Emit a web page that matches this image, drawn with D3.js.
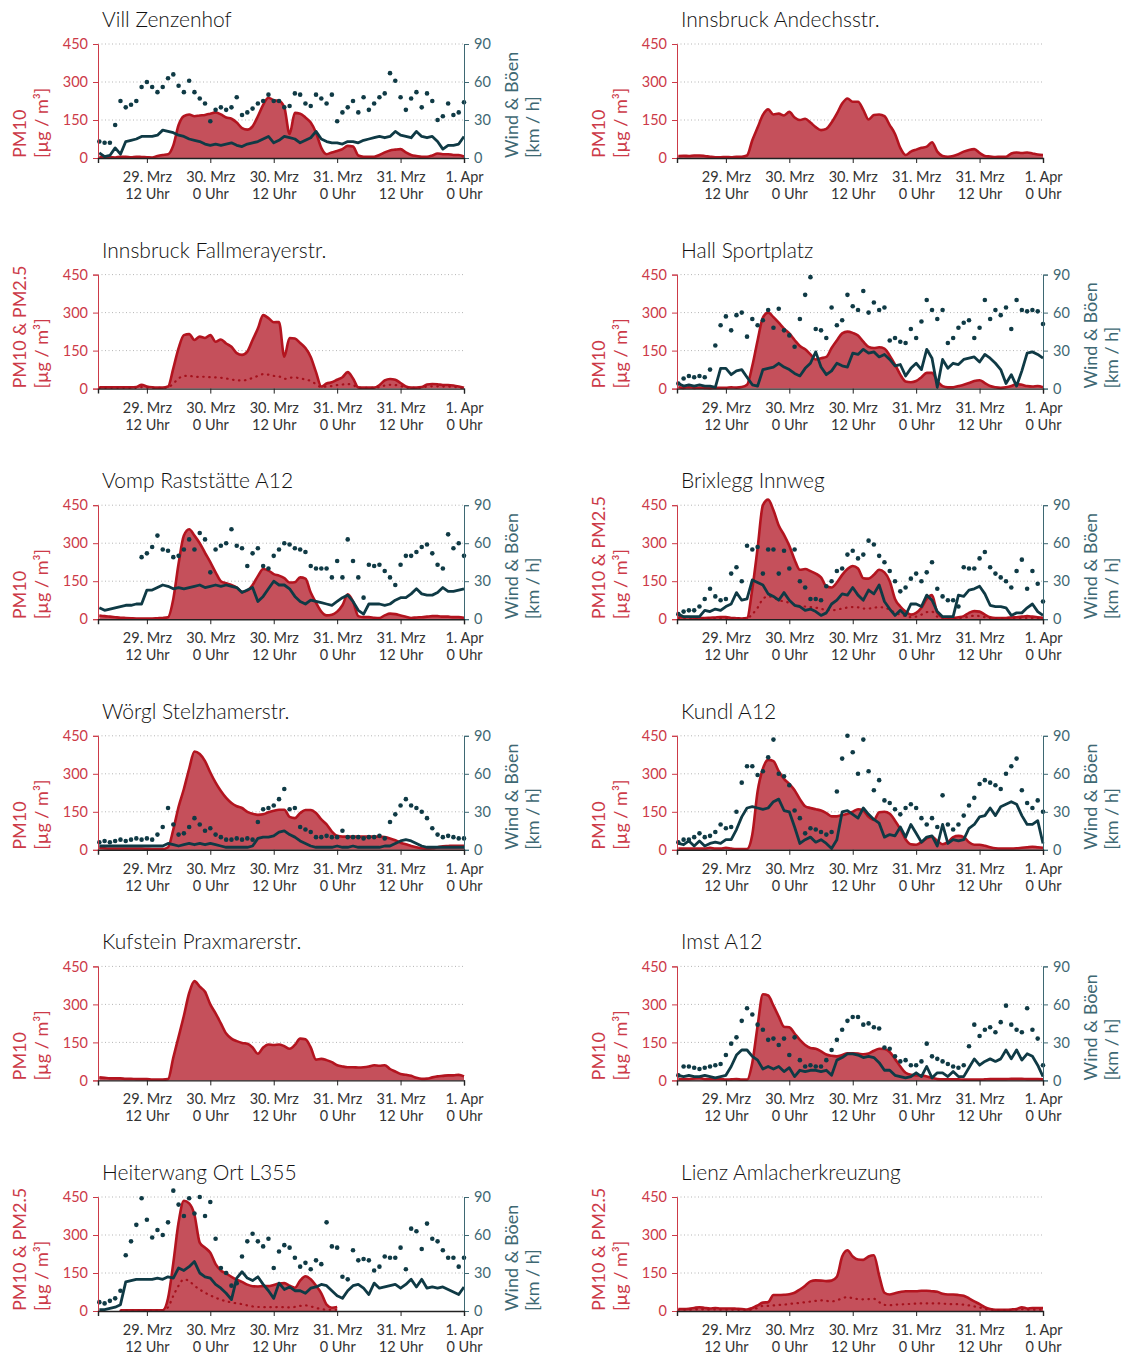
<!DOCTYPE html>
<html>
<head>
<meta charset="utf-8">
<script src="https://cdn.jsdelivr.net/npm/d3@7"></script>
<style>
  body { margin: 0; background: #fff; }
  svg text { font-family: Lato, "Open Sans", sans-serif; }
</style>
</head>
<body>
<svg id="chart" width="1125" height="1357"></svg>
<script>
// hourly values, 29. Mrz 03:00 .. 1. Apr 00:00 (70 values each)
const villPm10 = [5,3,3,2,5,5,3,5,4,3, 2,8,12,15,50,130,165,172,165,168, 170,175,180,172,160,155,140,118,112,125, 165,210,238,228,225,200,95,178,175,160, 140,100,40,15,22,28,35,48,45,10, 5,5,5,12,22,30,33,35,22,12, 8,5,5,10,18,15,15,12,12,6];
const villWind = [4,1,2,8,3,13,14,15,17,17, 17,18,22,21,20,18,17,15,14,13, 11,10,11,10,11,12,10,9,11,12, 13,15,17,12,14,17,16,15,12,14, 16,21,15,13,12,12,11,13,13,12, 14,15,16,17,16,17,21,18,17,16, 21,17,16,17,13,7,10,10,11,17];
const villGust = [13,12,12,26,45,40,42,45,56,60, 56,52,56,63,66,57,52,61,52,47, 43,29,38,40,38,40,48,34,36,39, 43,45,50,45,45,40,41,51,50,43, 41,50,47,43,50,29,36,40,45,36, 48,38,43,48,51,67,61,48,38,47, 52,40,51,45,30,33,43,34,36,44];

const andechsPm10 = [8,9,8,10,10,8,5,3,3,4, 3,5,5,10,70,120,170,192,172,175, 168,182,160,150,155,140,122,110,115,140, 175,215,235,222,222,190,152,170,172,165, 130,95,40,12,25,33,40,45,62,25, 8,5,8,15,25,32,35,20,8,6, 4,5,5,18,22,20,22,18,14,12];

const fallPm10 = [5,5,5,5,5,5,5,6,15,8, 5,4,4,8,80,160,211,215,192,205, 200,211,185,194,178,165,140,133,146,192, 237,290,278,262,263,126,200,198,180,160, 125,65,8,20,25,35,45,65,40,5, 4,4,4,14,32,38,35,22,8,4, 4,6,16,18,17,14,14,12,8,3];
const fallPm25 = [3,3,3,3,3,3,3,3,6,4, 3,3,3,5,20,40,50,50,47,46, 47,45,44,43,40,36,33,32,35,42, 50,57,55,50,48,38,43,44,40,36, 30,18,6,8,10,14,16,18,14,4, 3,3,3,6,12,15,14,10,4,3, 3,4,8,9,9,8,8,7,5,3];

const hallPm10 = [5,3,5,3,4,3,2,3,3,3, 5,4,6,15,90,190,280,300,282,260, 237,218,192,168,155,135,115,120,125,160, 190,218,225,220,210,185,165,160,163,158, 130,95,55,28,25,30,45,62,62,30, 10,5,5,10,15,22,30,33,22,10, 5,3,5,10,18,15,10,8,10,5];
const hallWind = [4,2,3,2,3,2,2,1,16,16, 11,14,15,9,3,2,15,16,17,20, 17,15,12,10,16,20,29,17,11,14, 20,18,17,28,27,31,28,29,25,27, 23,18,19,10,16,20,15,31,24,1, 23,16,20,19,23,24,25,21,27,24, 20,15,4,11,2,14,28,29,27,24];
const hallGust = [4,8,10,9,10,9,15,34,50,57, 46,58,60,41,55,50,54,62,48,63, 46,42,33,55,74,88,47,46,40,64, 50,54,74,65,62,77,60,68,62,64, 38,40,37,36,47,40,53,70,62,55, 62,36,40,48,52,54,40,48,70,55, 62,58,64,47,70,62,61,62,61,51];

const vompPm10 = [15,12,10,8,6,5,4,3,3,3, 3,4,5,8,80,220,330,355,330,300, 262,225,185,150,142,135,125,108,113,135, 170,198,192,178,172,162,145,146,165,160, 105,65,30,15,18,30,55,98,70,12, 8,8,6,5,15,22,20,15,10,5, 7,8,10,12,12,10,10,8,8,6];
const vompWind = [9,7,8,9,10,11,11,12,12,23, 23,25,27,26,24,25,24,25,26,27, 25,26,27,26,27,26,25,21,23,25, 14,18,24,30,27,27,24,18,14,12, 15,14,13,12,11,14,17,19,14,7, 4,12,12,12,11,12,15,17,17,20, 24,20,19,19,21,25,22,22,23,24];
const vompGust = [null,null,null,null,null,null,null,null,49,52, 57,66,55,54,49,50,55,63,55,68, 63,37,55,58,60,71,58,56,42,52, 56,42,40,50,55,60,59,56,55,53, 42,40,40,40,33,46,33,63,46,33, 17,43,42,43,38,33,27,43,50,50, 53,57,59,52,43,40,67,56,60,50];

const brixPm10 = [8,8,8,6,5,5,6,7,8,8, 5,4,3,5,120,280,450,472,430,370, 333,290,235,195,198,190,180,165,130,125, 145,175,198,210,200,162,160,175,195,185, 150,80,50,30,18,25,45,80,95,25, 8,5,5,8,12,25,32,30,18,8, 5,5,5,7,8,10,12,10,8,6];
const brixPm25 = [3,3,3,3,3,3,3,3,3,3, 3,3,3,4,20,45,80,90,85,75, 70,65,58,52,50,48,45,42,35,35, 38,42,46,48,47,42,42,45,48,45, 38,25,18,12,8,10,18,28,30,10, 4,3,3,4,6,10,14,12,8,4, 3,3,3,3,4,4,5,4,4,3];
const brixWind = [4,2,2,2,2,7,6,8,7,10, 12,21,15,16,31,29,27,20,18,15, 21,15,11,10,7,8,6,3,5,12, 15,20,19,25,19,15,23,20,27,14, 8,3,7,3,12,12,10,19,15,6, 2,2,2,19,18,23,24,26,20,11, 10,10,9,3,5,5,9,12,6,3];
const brixGust = [4,6,7,7,10,16,24,18,15,16, 36,41,30,58,55,57,36,55,55,36, 54,40,55,30,25,16,16,15,26,30, 38,40,51,54,48,51,62,59,50,45, 38,30,22,25,32,36,30,37,45,24, 18,15,15,10,41,40,40,48,53,41, 36,33,30,25,38,47,24,38,28,14];

const woerglPm10 = [8,6,5,5,5,5,5,5,5,4, 3,3,3,10,80,170,240,320,388,378, 350,305,265,232,205,185,172,165,150,142, 138,140,148,154,158,158,130,125,145,157, 157,145,120,100,72,55,52,52,52,52, 52,52,52,52,50,45,38,28,22,15, 10,6,5,6,10,14,15,16,16,16];
const woerglWind = [3,3,3,3,3,3,3,3,3,3, 3,3,3,5,4,3,4,5,4,5, 4,5,4,3,2,2,2,2,2,3, 9,10,10,11,14,15,12,10,7,5, 3,2,2,2,2,3,2,2,3,2, 2,2,2,2,3,3,5,7,8,7, 5,3,2,2,2,2,2,2,2,2];
const woerglGust = [6,7,6,7,8,7,8,9,8,9, 8,12,18,33,20,12,13,18,25,20, 15,17,12,10,8,8,9,8,9,8, 22,32,33,35,40,48,32,33,18,16, 14,10,10,11,10,10,15,10,10,10, 9,10,10,11,9,22,28,35,40,35, 33,30,25,17,12,10,11,10,9,9];

const kundlPm10 = [5,5,5,5,5,5,8,5,5,8, 5,3,3,3,60,230,320,355,350,310, 280,260,235,200,172,165,160,155,145,132, 132,137,142,150,160,155,130,118,148,150, 142,115,82,42,22,20,30,45,52,35, 22,30,50,55,50,30,20,20,16,10, 6,5,5,5,6,8,10,12,10,8];
const kundlWind = [5,4,7,3,7,3,5,6,5,8, 8,16,26,33,34,33,32,33,38,40, 31,30,18,5,8,10,6,8,5,1, 8,30,31,28,25,33,28,24,21,10, 12,11,18,10,20,13,6,10,11,3, 20,5,8,7,8,17,20,26,27,33, 27,34,36,38,36,27,20,20,23,5];
const kundlGust = [6,8,8,10,13,10,11,14,20,17, 18,30,53,66,66,59,62,73,87,60, 58,51,31,25,13,17,16,14,12,14, 46,72,90,77,60,87,62,47,55,39, 37,32,28,33,36,33,25,20,25,18, 43,20,16,20,27,35,41,52,55,53, 51,48,60,66,72,47,37,33,39,30];

const kufPm10 = [12,10,8,8,8,6,6,5,5,5, 3,3,3,5,90,172,255,345,392,370, 350,300,265,225,185,165,155,148,145,130, 105,130,142,140,142,135,125,140,165,162, 130,82,85,80,72,60,55,52,52,51, 52,55,60,58,60,45,35,25,22,18, 10,6,7,12,16,18,20,20,22,16];

const imstPm10 = [5,5,5,8,10,5,5,5,5,3, 4,5,3,3,70,215,340,335,295,252, 212,210,185,160,140,128,125,115,102,97, 95,100,107,107,106,103,106,117,125,124, 112,85,55,30,22,20,20,15,10,5, 4,4,4,4,3,3,3,3,4,5, 5,5,5,6,6,6,5,5,5,4];
const imstWind = [4,3,4,3,3,4,3,2,3,4, 11,20,24,24,19,16,9,11,9,11, 7,10,3,8,7,8,8,7,8,4, 16,18,21,21,20,18,19,18,14,8, 8,4,3,2,3,6,3,11,2,6, 6,3,7,3,3,10,17,12,15,17, 15,17,24,17,24,16,21,19,12,3];
const imstGust = [4,11,11,10,9,10,11,12,13,20, 29,34,47,57,52,44,40,32,33,28, 33,20,34,16,11,12,11,11,16,24, 32,40,47,50,50,44,45,42,41,26, 25,19,15,16,12,12,15,29,19,17, 15,13,11,10,12,27,44,35,40,42, 38,46,59,44,40,38,57,40,33,12];

const heitPm10 = [null,null,null,null,3,3,3,3,3,3, 3,3,3,50,190,350,435,425,380,270, 250,230,185,160,148,135,124,115,104,98, 97,98,98,103,108,110,100,92,120,137, 125,100,70,25,13,16,null,null,null,null, null,null,null,null,null,null,null,null,null,null, null,null,null,null,null,null,null,null,null,null];
const heitPm25 = [null,null,null,null,2,2,2,2,2,2, 2,2,2,15,60,100,125,118,100,85, 72,62,52,45,38,34,30,27,22,18, 16,15,15,15,16,15,14,16,20,22, 18,12,8,5,5,5,null,null,null,null, null,null,null,null,null,null,null,null,null,null, null,null,null,null,null,null,null,null,null,null];
const heitWind = [1,1,2,3,5,23,24,25,25,25, 25,26,25,27,26,34,32,35,39,30, 27,26,21,18,14,9,26,31,26,24, 27,21,16,10,22,17,19,16,16,14, 18,19,21,20,16,12,10,16,20,21, 18,13,22,18,19,20,21,18,21,25, 19,25,18,19,18,19,17,15,13,19];
const heitGust = [7,6,8,10,16,44,55,68,89,72, 58,64,60,70,95,84,75,89,77,90, 75,86,57,34,30,20,22,43,55,61, 55,51,57,34,47,52,50,42,35,38, 33,40,37,70,51,50,27,25,48,40, 41,40,32,35,43,42,42,50,33,65, 63,49,69,57,55,48,42,42,35,42];

const lienzPm10 = [8,8,9,12,15,12,10,12,10,10, 10,9,8,6,12,22,33,35,63,63, 64,66,72,85,100,117,121,120,118,120, 135,215,240,215,203,202,215,220,140,72, 65,70,75,78,78,78,80,80,78,76, 68,65,65,63,60,50,38,27,15,8, 5,5,5,6,8,15,10,12,12,12];
const lienzPm25 = [5,5,5,6,7,6,5,6,5,5, 5,5,4,4,6,12,20,20,22,24, 25,28,30,32,35,37,40,42,40,38, 42,50,55,50,47,46,47,48,35,24, 23,25,26,27,28,29,30,30,30,30, 29,28,27,27,25,22,18,14,8,5, 4,4,4,4,5,7,5,5,5,5];

const xTickDates = [new Date(2024, 2, 29, 12), new Date(2024, 2, 30, 0), new Date(2024, 2, 30, 12),
                    new Date(2024, 2, 31, 0), new Date(2024, 2, 31, 12), new Date(2024, 3, 1, 0)];
const xTickLabels = [["29. Mrz", "12 Uhr"], ["30. Mrz", "0 Uhr"], ["30. Mrz", "12 Uhr"],
                     ["31. Mrz", "0 Uhr"], ["31. Mrz", "12 Uhr"], ["1. Apr", "0 Uhr"]];
const pmTicks = [0, 150, 300, 450];
const windTicks = [0, 30, 60, 90];

const panels = [
  { title: "Vill Zenzenhof", pm10: villPm10, wind: villWind, gust: villGust },
  { title: "Innsbruck Andechsstr.", pm10: andechsPm10 },
  { title: "Innsbruck Fallmerayerstr.", pm10: fallPm10, pm25: fallPm25 },
  { title: "Hall Sportplatz", pm10: hallPm10, wind: hallWind, gust: hallGust },
  { title: "Vomp Raststätte A12", pm10: vompPm10, wind: vompWind, gust: vompGust },
  { title: "Brixlegg Innweg", pm10: brixPm10, pm25: brixPm25, wind: brixWind, gust: brixGust },
  { title: "Wörgl Stelzhamerstr.", pm10: woerglPm10, wind: woerglWind, gust: woerglGust },
  { title: "Kundl A12", pm10: kundlPm10, wind: kundlWind, gust: kundlGust },
  { title: "Kufstein Praxmarerstr.", pm10: kufPm10 },
  { title: "Imst A12", pm10: imstPm10, wind: imstWind, gust: imstGust },
  { title: "Heiterwang Ort L355", pm10: heitPm10, pm25: heitPm25, wind: heitWind, gust: heitGust },
  { title: "Lienz Amlacherkreuzung", pm10: lienzPm10, pm25: lienzPm25 }
];

const red = "#b3141f", redFill = "#c5505b", redText = "#cc3a48";
const teal = "#0f3a45", tealText = "#3e6873";

const svg = d3.select("#chart");
const colX = [98, 677], rowTop = 44, rowStep = 230.6;
const plotW = 366, plotH = 114;

const start = new Date(2024, 2, 29, 3);
const hours = d3.range(70).map(i => d3.timeHour.offset(start, i));

const x = d3.scaleTime()
  .domain([new Date(2024, 2, 29, 2, 45), new Date(2024, 3, 1, 0)])
  .range([0, plotW]);
const yPm = d3.scaleLinear().domain([0, 450]).range([plotH, 0]);
const yWind = d3.scaleLinear().domain([0, 90]).range([plotH, 0]);

panels.forEach((p, k) => {
  const g = svg.append("g")
    .attr("transform", "translate(" + colX[k % 2] + "," + (rowTop + Math.floor(k / 2) * rowStep) + ")");

  g.append("text")
    .attr("x", 4).attr("y", -17)
    .attr("font-size", 21).attr("font-weight", 300).attr("fill", "#111")
    .text(p.title);

  // dotted grid
  g.selectAll(".grid").data([150, 300, 450]).join("line")
    .attr("x1", 0).attr("x2", plotW)
    .attr("y1", d => yPm(d)).attr("y2", d => yPm(d))
    .attr("stroke", "#b5b5b5").attr("stroke-dasharray", "1,2.5");

  const pm = hours.map((t, i) => ({ t: t, v: p.pm10[i] }));
  const area = d3.area()
    .defined(d => d.v != null)
    .x(d => x(d.t)).y0(plotH).y1(d => yPm(d.v))
    .curve(d3.curveMonotoneX);
  const line = d3.line()
    .defined(d => d.v != null)
    .x(d => x(d.t)).y(d => yPm(d.v))
    .curve(d3.curveMonotoneX);

  g.append("path").datum(pm).attr("d", area).attr("fill", redFill);
  g.append("path").datum(pm).attr("d", line)
    .attr("fill", "none").attr("stroke", red).attr("stroke-width", 2.6)
    .attr("stroke-linejoin", "round");

  if (p.pm25) {
    const pm25 = hours.map((t, i) => ({ t: t, v: p.pm25[i] }));
    g.append("path").datum(pm25).attr("d", line)
      .attr("fill", "none").attr("stroke", "#a5111c").attr("stroke-width", 2.2)
      .attr("stroke-dasharray", "0.5,5.5").attr("stroke-linecap", "round");
  }

  if (p.wind) {
    const wind = hours.map((t, i) => ({ t: t, v: p.wind[i] }));
    g.append("path").datum(wind)
      .attr("d", d3.line().x(d => x(d.t)).y(d => yWind(d.v)))
      .attr("fill", "none").attr("stroke", teal).attr("stroke-width", 2.8)
      .attr("stroke-linejoin", "round");

    const gust = hours.map((t, i) => ({ t: t, v: p.gust[i] })).filter(d => d.v != null);
    g.selectAll(".gust").data(gust).join("circle")
      .attr("cx", d => x(d.t)).attr("cy", d => yWind(d.v))
      .attr("r", 2.3).attr("fill", teal);

    // right axis
    const ra = g.append("g").attr("transform", "translate(" + plotW + ",0)")
      .call(d3.axisRight(yWind).tickValues(windTicks).tickSize(5).tickPadding(5));
    ra.select(".domain").attr("stroke", tealText);
    ra.selectAll(".tick line").attr("stroke", tealText);
    ra.selectAll(".tick text").attr("fill", tealText).attr("font-size", 14.5)
      .attr("font-family", "Lato, sans-serif");

    const rt = g.append("g").attr("transform", "translate(" + (plotW + 48) + "," + plotH + ") rotate(-90)")
      .attr("fill", tealText).attr("font-size", 18);
    rt.append("text").attr("dy", "0.35em").text("Wind & Böen");
    rt.append("text").attr("y", 21).attr("dy", "0.35em").text("[km / h]");
  }

  // left axis
  const la = g.append("g")
    .call(d3.axisLeft(yPm).tickValues(pmTicks).tickSize(5).tickPadding(5));
  la.select(".domain").attr("stroke", redText);
  la.selectAll(".tick line").attr("stroke", redText);
  la.selectAll(".tick text").attr("fill", redText).attr("font-size", 14.5)
    .attr("font-family", "Lato, sans-serif");

  const lt = g.append("g").attr("transform", "translate(-78," + plotH + ") rotate(-90)")
    .attr("fill", redText).attr("font-size", 18);
  lt.append("text").attr("dy", "0.35em").text(p.pm25 ? "PM10 & PM2.5" : "PM10");
  lt.append("text").attr("y", 22).attr("dy", "0.35em").text("[µg / m³]");

  // bottom axis
  const ba = g.append("g").attr("transform", "translate(0," + plotH + ")")
    .call(d3.axisBottom(x).tickValues(xTickDates).tickSize(5).tickFormat(""));
  ba.select(".domain").attr("stroke", "#222").attr("stroke-width", 1.4);
  ba.selectAll(".tick line").attr("stroke", "#222");
  ba.selectAll(".tick text").remove();
  ba.selectAll(".tick").each(function (d, i) {
    const t = d3.select(this).append("text")
      .attr("text-anchor", "middle").attr("fill", "#333")
      .attr("font-size", 14.5).attr("font-family", "Lato, sans-serif");
    t.append("tspan").attr("x", 0).attr("y", 24).text(xTickLabels[i][0]);
    t.append("tspan").attr("x", 0).attr("y", 41).text(xTickLabels[i][1]);
  });
});
</script>
</body>
</html>
